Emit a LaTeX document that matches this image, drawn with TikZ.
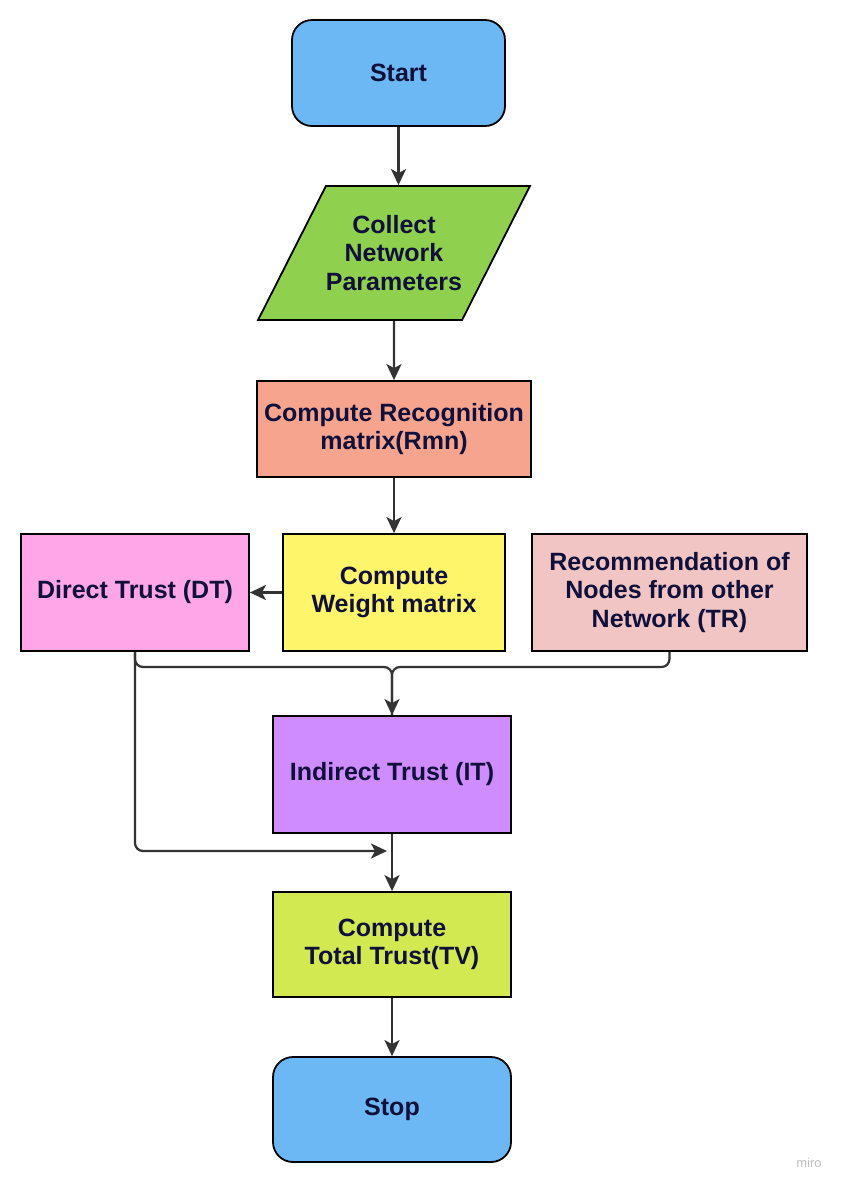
\documentclass[tikz,border=0pt]{standalone}
\usepackage{fontspec}
\setmainfont{Liberation Sans}
\usetikzlibrary{shapes.geometric,arrows.meta}
\definecolor{termblue}{HTML}{6CB8F4}
\definecolor{collectgreen}{HTML}{8FD14F}
\definecolor{recogsalmon}{HTML}{F7A48F}
\definecolor{weightyellow}{HTML}{FEF56B}
\definecolor{directpink}{HTML}{FFA6E8}
\definecolor{recomrose}{HTML}{F1C5C4}
\definecolor{indirectpurple}{HTML}{CE8CFF}
\definecolor{totallime}{HTML}{D3E951}
\definecolor{navytext}{HTML}{10103A}
\definecolor{linegray}{HTML}{333333}
\tikzstyle{base} = [draw=black, line width=1.8pt, text=navytext,
font=\bfseries\fontsize{25}{28.5}\selectfont, align=center, inner sep=0pt]
\tikzstyle{terminal} = [base, rectangle, rounded corners=20pt, fill=termblue,
minimum height=106pt]
\tikzstyle{process} = [base, rectangle]
\tikzstyle{inout} = [base, trapezium, trapezium left angle=48,
trapezium right angle=132, trapezium stretches=true,
minimum width=273pt, minimum height=134pt, fill=collectgreen]
\tikzstyle{line} = [draw=linegray, line width=2.2pt, rounded corners=8pt]
\tikzstyle{arrow} = [line, -{Stealth[length=16pt,width=15pt,inset=4pt]}]

\begin{document}
\begin{tikzpicture}[x=1pt, y=-1pt]
		\useasboundingbox (0,0) rectangle (842,1187);
		%nodes
		\node [terminal, minimum width=213pt] (start) at (398.5,73) {Start};
		\node [inout] (collect) at (394,253) {Collect\\Network\\Parameters};
		\node [process, fill=recogsalmon, minimum width=274pt, minimum height=96pt]
			(recog) at (394,429) {Compute Recognition\\matrix(Rmn)};
		\node [process, fill=weightyellow, minimum width=222pt, minimum height=117pt]
			(weight) at (394,592.5) {Compute\\Weight matrix};
		\node [process, fill=directpink, minimum width=228pt, minimum height=117pt]
			(direct) at (135,592.5) {Direct Trust (DT)};
		\node [process, fill=recomrose, minimum width=275pt, minimum height=117pt]
			(recom) at (669.5,592.5) {Recommendation of\\Nodes from other\\Network (TR)};
		\node [process, fill=indirectpurple, minimum width=238pt, minimum height=117pt]
			(indirect) at (392,774.5) {Indirect Trust (IT)};
		\node [process, fill=totallime, minimum width=238pt, minimum height=105pt]
			(total) at (392,944.5) {Compute\\Total Trust(TV)};
		\node [terminal, minimum width=238pt, minimum height=105pt] (stop) at (392,1109.5) {Stop};
		\node [text=black!25, font=\fontsize{13}{15}\selectfont] (miro) at (809,1163) {miro};
		\coordinate (merge) at (392,667);
		\coordinate (join) at (387,851);
		%connectors
		\draw [arrow] (start.south) -- (start.south |- collect.north);
		\draw [arrow] (collect.south) -- (recog.north);
		\draw [arrow] (recog.south) -- (weight.north);
		\draw [arrow] (weight.west) -- (direct.east);
		\draw [line] (recom.south) |- (merge) -- (indirect.north);
		\draw [arrow] (direct.south) |- (merge) -- (indirect.north);
		\draw [arrow] (direct.south) |- (join);
		\draw [arrow] (indirect.south) -- (total.north);
		\draw [arrow] (total.south) -- (stop.north);
\end{tikzpicture}
\end{document}
